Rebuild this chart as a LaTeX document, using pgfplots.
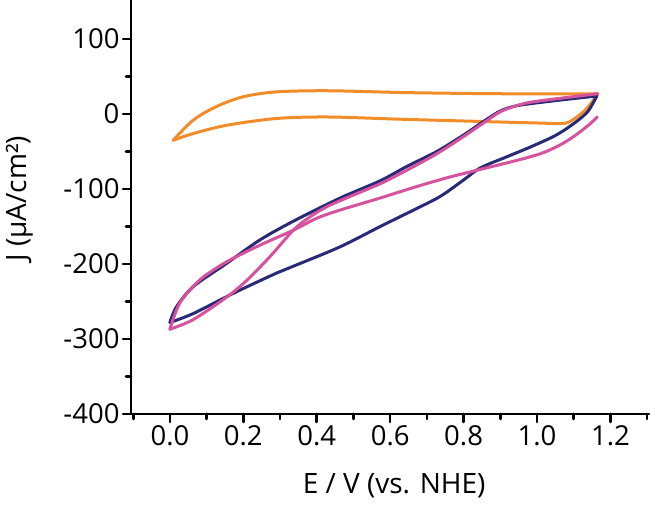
\documentclass[border=0pt]{standalone}
\usepackage{pgfplots}
\pgfplotsset{compat=1.18}
\usepackage{fontspec}
\setmainfont{Open Sans}
\definecolor{cvorange}{RGB}{242,140,40}
\definecolor{cvnavy}{RGB}{40,42,120}
\definecolor{cvpink}{RGB}{214,82,158}
\begin{document}
\begin{tikzpicture}
\useasboundingbox (-131pt,-91pt) rectangle (520pt,414pt);
\begin{axis}[
  at={(0pt,0pt)}, anchor=south west,
  scale only axis, width=518pt, height=414pt,
  xmin=-0.106, xmax=1.305, ymin=-400, ymax=152,
  axis lines=left,
  axis line style={-, line width=2.6pt, black},
  tick align=outside,
  major tick length=8pt, minor tick length=5pt,
  every tick/.style={black, line width=2.6pt},
  xtick={0,0.2,0.4,0.6,0.8,1.0,1.2},
  minor xtick={-0.1,0.1,0.3,0.5,0.7,0.9,1.1,1.3},
  ytick={-400,-300,-200,-100,0,100},
  minor ytick={-350,-250,-150,-50,50},
  xticklabel style={/pgf/number format/.cd, fixed, fixed zerofill, precision=1},
  /pgf/number format/assume math mode=true,
  ticklabel style={font=\fontsize{27.5}{30}\selectfont},
  label style={font=\fontsize{28}{32}\selectfont},
  xlabel={E / V (vs. NHE)},
  ylabel={J (µA/cm²)},
  xlabel style={at={(axis description cs:0.508,-0.193)}, anchor=base},
  ylabel style={at={(axis description cs:-0.214,0.52)}, anchor=center, rotate=0},
  line join=round, line cap=round,
]
% orange
\addplot[cvorange, line width=3pt, smooth, tension=0.5] coordinates {
(0.009,-35) (0.064,-26) (0.155,-15) (0.29,-6) (0.43,-4) (0.63,-7) (0.85,-10) (1.0,-12) (1.073,-12.5) (1.10,-7) (1.135,7) (1.166,27)};
\addplot[cvorange, line width=3pt, smooth, tension=0.5] coordinates {
(1.166,27) (0.9,27) (0.645,28.5) (0.43,31) (0.29,29.5) (0.2,23) (0.127,10) (0.064,-8) (0.009,-35)};
% navy
\addplot[cvnavy, line width=3pt, smooth, tension=0.5] coordinates {
(0.0,-278) (0.064,-266) (0.173,-239) (0.291,-212) (0.336,-203) (0.464,-177) (0.573,-150) (0.664,-128) (0.736,-110) (0.8,-88) (0.845,-72) (0.918,-57) (0.982,-44) (1.045,-30) (1.082,-19) (1.118,-6) (1.141,5) (1.163,24)};
\addplot[cvnavy, line width=3pt, smooth, tension=0.5] coordinates {
(1.163,24) (1.036,17) (0.945,11) (0.9,4) (0.854,-10) (0.8,-28) (0.727,-50) (0.645,-70) (0.573,-89) (0.464,-112) (0.336,-143) (0.245,-168) (0.155,-199) (0.064,-230) (0.018,-257) (0.0,-278)};
% pink
\addplot[cvpink, line width=3pt, smooth, tension=0.5] coordinates {
(1.164,-4) (1.14,-15) (1.1,-30) (1.06,-42) (1.009,-53) (0.936,-63) (0.836,-75) (0.755,-85) (0.664,-98) (0.573,-112) (0.464,-128) (0.4,-139) (0.336,-155) (0.245,-175) (0.155,-197) (0.082,-221) (0.027,-252) (0.0,-287)};
\addplot[cvpink, line width=3pt, smooth, tension=0.5] coordinates {
(0.0,-287) (0.064,-274) (0.155,-244) (0.209,-222) (0.273,-190) (0.336,-155) (0.382,-137) (0.43,-123) (0.5,-108) (0.573,-93) (0.645,-75) (0.727,-53) (0.8,-30) (0.854,-12) (0.9,3) (0.95,12) (1.0,17) (1.165,27)};
\end{axis}
\end{tikzpicture}
\end{document}
